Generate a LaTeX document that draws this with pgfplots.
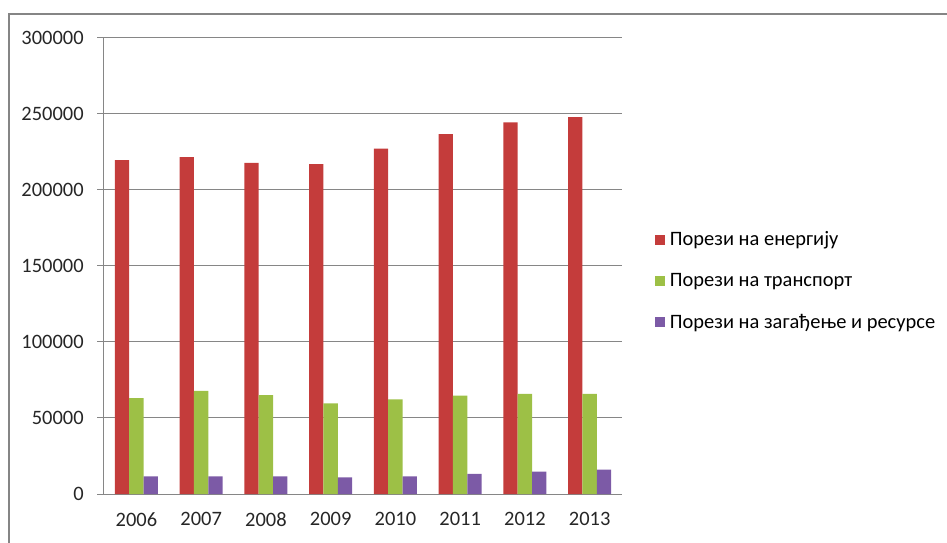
\documentclass[border=0pt]{standalone}
\usepackage{pgfplots}
\pgfplotsset{compat=1.18}
\usepackage{fontspec}
\setmainfont{Carlito}

\definecolor{gridgray}{HTML}{868686}
\definecolor{framegray}{HTML}{858585}
\definecolor{energyred}{HTML}{C43C3B}
\definecolor{transgreen}{HTML}{9DC046}
\definecolor{pollpurple}{HTML}{7C5AA6}

\begin{document}
\begin{tikzpicture}
% page size and outer frame
\path[use as bounding box] (0,0) rectangle (710.25bp,407.25bp);
\draw[framegray, line width=1.5bp] (6.75bp,-5bp) -- (6.75bp,396.75bp) -- (715bp,396.75bp);

\begin{axis}[
  at={(78bp,36.75bp)}, anchor=south west,
  scale only axis, width=388.5bp, height=342bp,
  ybar=0pt, bar width=10.7bp,
  xmin=-0.5, xmax=7.5, ymin=0, ymax=300000,
  xtick={0,...,7},
  xticklabels={2006,2007,2008,2009,2010,2011,2012,2013},
  extra x ticks={-0.5,0.5,...,7.5},
  extra x tick labels={},
  extra x tick style={major tick length=4.5bp, tick style={gridgray, line width=0.75bp}},
  ytick={0,50000,...,300000},
  scaled y ticks=false,
  /pgf/number format/fixed,
  /pgf/number format/1000 sep={},
  /pgf/number format/assume math mode=true,
  ymajorgrids,
  grid style={gridgray, line width=0.75bp},
  axis x line*=bottom, axis y line*=left,
  axis line style={gridgray, line width=0.75bp},
  tick align=outside,
  major tick length=5.25bp,
  x tick style={draw=none},
  y tick style={gridgray, line width=0.75bp},
  xticklabel style={font=\fontsize{15.4}{18}\selectfont, text=black!85, yshift=-5bp},
  yticklabel style={font=\fontsize{15.4}{18}\selectfont, text=black!85, xshift=-6.5bp},
  clip=false,
  legend style={at={(1.0637,0.467)}, anchor=west, draw=none, fill=none,
    font=\fontsize{15.4}{18}\selectfont, row sep=15.2bp, inner sep=0pt,
    cells={anchor=west}},
  legend image code/.code={%
    \fill[#1] (0bp,-3.75bp) rectangle (7.5bp,3.75bp);
    \path (9bp,0bp);},
]
\addplot[draw=none, fill=energyred]
  coordinates {(0,219700) (1,221700) (2,217800) (3,217100) (4,227200) (5,236800) (6,244500) (7,248000)};
\addplot[draw=none, fill=transgreen]
  coordinates {(0,63000) (1,67800) (2,65100) (3,59600) (4,62300) (5,64700) (6,65800) (7,65800)};
\addplot[draw=none, fill=pollpurple]
  coordinates {(0,11600) (1,11600) (2,11600) (3,11000) (4,11600) (5,13200) (6,14700) (7,16000)};
\legend{Порези на енергију, Порези на транспорт, Порези на загађење и ресурсе}
\end{axis}
\end{tikzpicture}
\end{document}
